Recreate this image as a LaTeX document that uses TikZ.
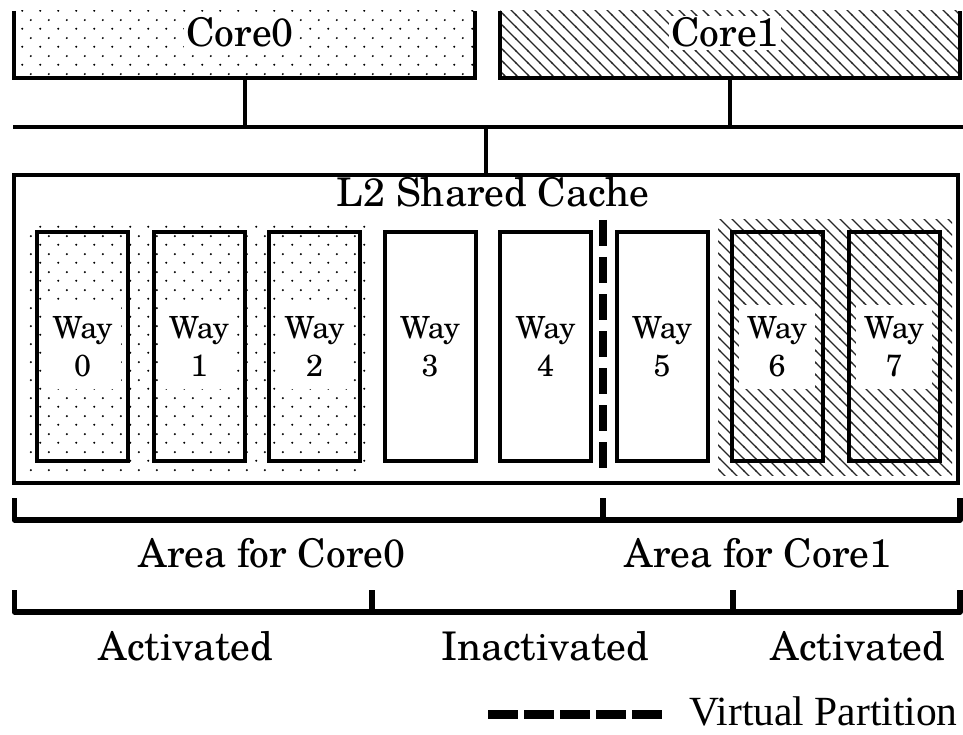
\documentclass[tikz,border=0pt]{standalone}
\usepackage{fontspec}
\setmainfont{texgyreschola-regular.otf}
\newfontfamily\legfont{Liberation Serif}
\usetikzlibrary{patterns}
\pgfdeclarepatternformonly{sdots}{\pgfqpoint{0pt}{0pt}}{\pgfqpoint{18pt}{18pt}}{\pgfqpoint{18pt}{18pt}}{%
  \pgfpathcircle{\pgfqpoint{4.5pt}{4.5pt}}{1.15pt}%
  \pgfpathcircle{\pgfqpoint{13.5pt}{13.5pt}}{1.15pt}%
  \pgfusepath{fill}}
\pgfdeclarepatternformonly{shatch}{\pgfqpoint{-1pt}{-1pt}}{\pgfqpoint{13pt}{13pt}}{\pgfqpoint{12pt}{12pt}}{%
  \pgfsetlinewidth{1.3pt}%
  \pgfpathmoveto{\pgfqpoint{-1pt}{13pt}}\pgfpathlineto{\pgfqpoint{13pt}{-1pt}}%
  \pgfusepath{stroke}}
\tikzset{
  lw/.style={line width=4pt},
  bigtext/.style={font=\fontsize{39.5}{46}\selectfont, inner sep=2pt},
  wayname/.style={fill=white, inner sep=3pt, align=center, minimum width=76pt, minimum height=84pt, font=\fontsize{30.5}{38}\selectfont},
  waybox/.style={draw, line width=4pt, minimum width=91pt, minimum height=229pt, inner sep=0pt},
  corebox/.style={inner sep=0pt, minimum height=67pt},
  bracket/.style={line width=5.5pt, line join=round},
  partline/.style={line width=8pt, dash pattern=on 26pt off 11pt},
  legline/.style={line width=9pt, dash pattern=on 30pt off 6pt},
}
\begin{document}
\begin{tikzpicture}[x=1pt,y=-1pt]
\useasboundingbox (0,0) rectangle (963,735);
% cores
\node[corebox, minimum width=461pt, pattern=sdots] (core0) at (244.5,44.5) {};
\node[corebox, minimum width=460pt, pattern=shatch, pattern color=black!85] (core1) at (730,44.5) {};
\draw[lw] (core0.north west) -- (core0.south west) -- (core0.south east) -- (core0.north east);
\draw[lw] (core1.north west) -- (core1.south west) -- (core1.south east) -- (core1.north east);
\node[bigtext, fill=white, anchor=base] (c0t) at (240,47) {Core0};
\node[bigtext, fill=white, anchor=base] (c1t) at (725,47) {Core1};
% bus
\coordinate (busL) at (13,127);
\coordinate (busR) at (963,127);
\draw[lw] (busL) -- (busR);
\draw[lw] (core0.south) -- (core0.south |- busL);
\draw[lw] (core1.south) -- (core1.south |- busL);
% L2
\node[draw, lw, minimum width=944pt, minimum height=308pt, inner sep=0pt] (l2) at (486,329) {};
\draw[lw] (l2.north) -- (l2.north |- busL);
\node[bigtext, anchor=base] (l2t) at (493,207) {L2 Shared Cache};
% pattern areas
\path[pattern=sdots] (25,223) rectangle (368,475);
\path[pattern=shatch, pattern color=black!85] (718,220) rectangle (952,475);
% ways
\foreach \i/\x in {0/82.5,1/199,2/314.5,3/430,4/545.5,5/662,6/777,7/894}{
  \node[waybox] (w\i) at (\x,346.5) {};
  \node[wayname] (wt\i) at (w\i.center) {Way\\\i};
}
% partition
\coordinate (pT) at (603,220);
\coordinate (pB) at (603,470);
\draw[partline] (pT) -- (pB);
% bracket 1
\coordinate (a1) at (14.5,498);
\coordinate (a2) at (603,498);
\coordinate (a3) at (960,498);
\draw[bracket] (a1) -- ++(0,22) -| (a3);
\draw[bracket] (a2) -- ++(0,22);
\node[bigtext, anchor=base] (ar0) at (272,567) {Area for Core0};
\node[bigtext, anchor=base] (ar1) at (758,567) {Area for Core1};
% bracket 2
\coordinate (s1) at (14.5,590);
\coordinate (s2) at (372,590);
\coordinate (s3) at (733,590);
\coordinate (s4) at (960,590);
\draw[bracket] (s1) -- ++(0,22) -| (s4);
\draw[bracket] (s2) -- ++(0,22);
\draw[bracket] (s3) -- ++(0,22);
\node[bigtext, anchor=base] (act0) at (186,660) {Activated};
\node[bigtext, anchor=base] (inact) at (545,660) {Inactivated};
\node[bigtext, anchor=base] (act1) at (858,660) {Activated};
% legend
\coordinate (lg1) at (488,714);
\coordinate (lg2) at (662,714);
\draw[legline] (lg1) -- (lg2);
\node[font=\legfont\fontsize{41.5}{48}\selectfont, inner sep=0pt, anchor=base] (legt) at (823.5,725) {Virtual Partition};
\end{tikzpicture}
\end{document}
